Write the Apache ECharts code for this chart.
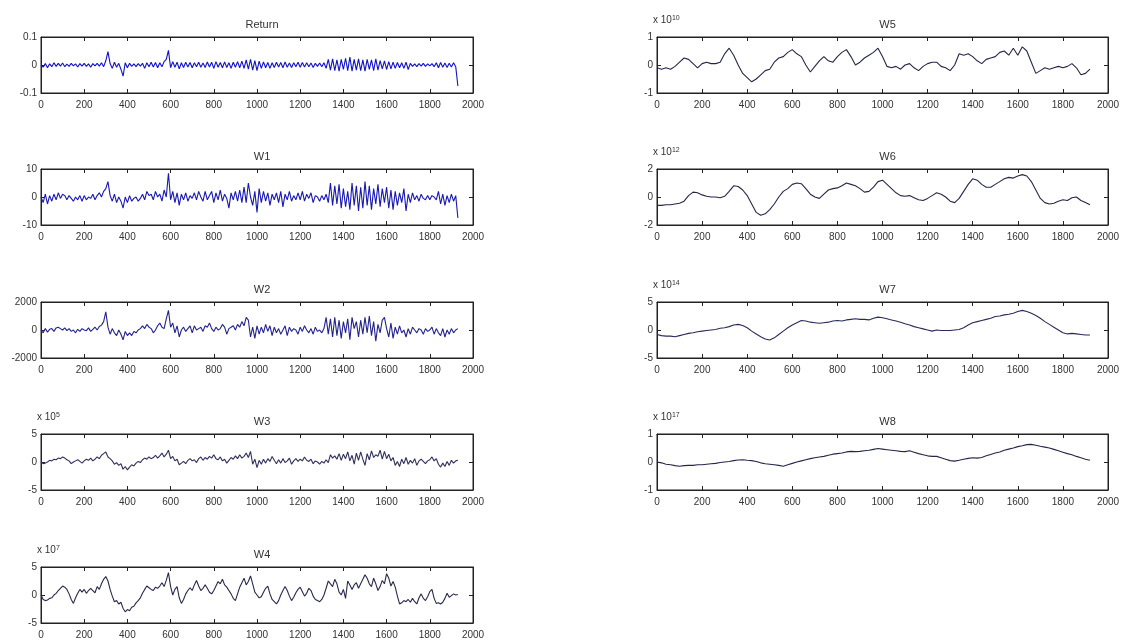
<!DOCTYPE html>
<html lang="en">
<head>
    <meta charset="UTF-8">
    <title>Wavelet decomposition</title>
    <script src="https://cdn.jsdelivr.net/npm/echarts@6/dist/echarts.min.js"></script>
    <style>
        html, body { margin: 0; padding: 0; background: #fff; }
        #render-target { width: 1135px; height: 643px; }
    </style>
</head>
<body>
    <div id="render-target"></div>
    <script>
        // sample spacing (x units) of the typed values
        const stepFine = 10
        const stepCoarse = 20

        const returnVals = [
            0, -0.008, 0.005, -0.01, 0.004, -0.006, 0.008, -0.005, 0.006, -0.004, 0.007, -0.006, 0.003, -0.005, 0.006, -0.003, 0.004, -0.007, 0.005, -0.004, 0.006, -0.005, 0.004, -0.008, 0.005, -0.003, 0.006, -0.004, 0.008, -0.006,
            0.015, 0.048, 0.005, -0.012, 0.01, -0.008, 0.006, -0.015, -0.04, 0.008, -0.01, 0.006, -0.005, 0.004, -0.006, 0.005, -0.004, 0.006, -0.012, 0.008, -0.006, 0.01, -0.007, 0.009, -0.01, 0.008, -0.006, 0.012, 0.02, 0.052,
            -0.01, 0.012, -0.008, 0.01, -0.014, 0.008, -0.009, 0.01, -0.007, 0.009, -0.01, 0.008, -0.006, 0.01, -0.008, 0.007, -0.009, 0.011, -0.007, 0.01, -0.012, 0.012, -0.008, 0.009, -0.01, 0.011, -0.009, 0.008, -0.012, 0.01,
            -0.008, 0.012, -0.01, 0.014, -0.012, 0.018, -0.015, 0.02, -0.018, 0.016, -0.02, 0.014, -0.012, 0.011, -0.01, 0.009, -0.012, 0.008, -0.009, 0.01, -0.007, 0.009, -0.01, 0.011, -0.008, 0.007, -0.009, 0.008, -0.006, 0.01,
            -0.008, 0.009, -0.007, 0.008, -0.006, 0.007, -0.009, 0.006, -0.005, 0.007, -0.006, 0.008, -0.012, 0.02, -0.018, 0.022, -0.02, 0.018, -0.022, 0.02, -0.016, 0.024, -0.02, 0.028, -0.022, 0.02, -0.018, 0.022, -0.02, 0.018,
            -0.022, 0.02, -0.016, 0.018, -0.02, 0.022, -0.018, 0.016, -0.014, 0.015, -0.016, 0.012, -0.014, 0.01, -0.012, 0.009, -0.01, 0.008, -0.012, 0.01, -0.016, 0.006, -0.005, 0.004, -0.006, 0.005, -0.004, 0.006, -0.005, 0.004,
            -0.003, 0.005, -0.006, 0.008, -0.01, 0.009, -0.008, 0.007, -0.009, 0.006, -0.007, 0.008, -0.006, -0.075
        ]
        const w1Vals = [
            0, -2, 1, -2.5, 0.5, -1.5, 1, -1, 1.5, -0.5, 1, 0.5, -1, 0.5, -0.5, -1.5, 0, -1, 0.5, -1.5, 0.5, -1, 0, -0.5, 1, -1, 0.5, 1.5, 0, 2,
            3, 5.5, 0.5, -1.5, 1, -2, 0, -1.5, -4, 0, -2, 0.5, -1.5, -0.5, 0, -1.5, -0.5, 1, -1, 2, 0.5, 1, -1, 2, 0, 1, -1.5, 2.5, 0, 8.5,
            -1, 2, -2, 1.5, -3, 1, -1, 1.5, -1.5, 0.5, -0.5, 1.5, -1, 2, 0, -1.5, 2, -1, 0.5, 2, -2, 1.5, -1, 2.5, -1.5, 1, -0.5, -4, 1.5, -1,
            2, -1.5, 2.5, -2, 3.5, -2, 5, 0, -3, 2, -5.5, 3, -2, 2, -1.5, 1.5, -3, 1, -1, 1.5, -2, 2, -3.5, 1, -1, 2, -1.5, 0.5, -1, 1.5,
            -1, 2, -1.5, 1, -0.5, 1.5, -2, 0.5, 0, -1.5, 0.5, -1, 1, -2, 5, -3, 4, -2.5, 4.5, -4, 3, -3.5, 2, -4.5, 5, -3, 4, -5, 3.5, -4,
            5.5, -3, 4, -4.5, 3, -2.5, 4.5, -3.5, 3, -2, 3.5, -4, 2.5, -4.5, 2, -3, 1.5, -2, 3, -5, 1, -2, 1.5, -1, 0.5, -1.5, 1, -0.5, -1, 0.5,
            -1, 0.5, 0, -1, 2, -2.5, 1, -3, 0.5, -2, 1, -1.5, 0.5, -7.5
        ]
        const w2Vals = [
            0, -200, 100, -150, 50, 100, -100, 150, 200, 100, 0, 150, -50, 100, -100, 0, -200, 50, -100, 100, 0, -50, 150, -100, 50, 200, 0, 250, 350, 600,
            1300, 200, -300, 100, -200, -400, 0, -300, -700, -100, -400, -200, -400, -100, -200, 0, 100, 300, 100, 400, 200, 100, -200, 0, 300, 500, 200, 100, 800, 1400,
            200, 500, -200, 300, -500, 0, 200, -100, 100, 300, -200, 300, 0, 100, 200, -100, 300, 200, 500, 100, -100, 200, 0, 100, 400, 200, -300, 100, 200, 300,
            0, 400, 200, 600, 300, 900, 700, -500, 200, -600, 300, -300, 200, -200, 400, -100, 300, -400, 200, -200, 100, -300, 0, 300, -400, 200, -100, 100, 0, -300,
            200, -100, 300, 0, -200, 100, -300, 200, -100, 0, -200, 100, 900, -300, 800, -500, 900, -400, 700, -600, 600, -200, 800, -700, 900, 100, 600, -500, 700, -300,
            900, -200, 1000, -400, 600, -800, 400, -200, 700, 900, 100, -500, 500, -600, 200, -300, 300, -200, 0, -500, 100, -300, 200, 0, -200, 100, 0, -300, 100, -100,
            0, 200, -300, 100, -200, -400, 100, -500, 0, -300, 100, -200, 0, 100
        ]
        // in units of 1e5
        const w3Vals = [
            0, -0.3, -0.2, 0, 0.3, 0.2, 0.5, 0.4, 0.7, 0.6, 0.9, 0.7, 0.4, 0.2, -0.3, 0, 0.2, 0.4, 0.1, -0.2, 0.2, 0.5, 0.3, 0.7, 0.2, 0.5, 0.9, 0.6, 1.2, 1.5,
            1.8, 0.9, 0.6, 0.2, -0.4, -0.1, -0.6, -0.3, -1.3, -0.8, -1.4, -0.9, -0.5, -0.7, -0.2, 0.1, -0.1, 0.4, 0.7, 0.5, 0.9, 0.6, 0.8, 1.2, 0.7, 1.1, 1.6, 0.9, 1.4, 2.1,
            0.6, 1.0, 0.2, 0.5, -0.5, -0.2, 0.1, -0.3, 0.3, 0.6, 0.2, 0.4, -0.1, 0.6, 0.9, 0.3, 0.8, 0.5, 1.0, 0.7, 1.3, 0.6, 0.4, 0.9, 0.2, 0.5, -0.2, 0.3, 0.8, 0.5,
            1.1, 0.6, 1.3, 0.7, 1.0, 1.6, 0.8, 1.9, -0.4, 0.5, -1.0, 0.3, -0.4, 0.5, -0.2, 0.6, 0.1, 1.0, 0.3, -0.3, 0.4, -0.2, 0.6, -0.1, 0.2, 0.7, -0.4, 0.2, 0.6, 0.1,
            0.5, 0.2, 0.9, 0.3, 0.1, 0.5, -0.3, 0.2, 0.0, -0.4, 0.1, -0.2, 0.4, -0.1, 1.3, 0.7, 1.1, 0.5, 1.5, 0.3, 1.4, 0.6, 1.8, 0.2, 1.2, -0.4, 1.6, 0.3, 1.8, 0.5,
            -0.6, 1.5, 0.4, 2.0, 0.8, 1.3, 1.0, 2.1, 0.5, 1.9, 0.6, 1.4, 0.2, 0.8, -0.6, 0.1, -0.8, 0.5, -0.3, 0.8, -0.4, 0.3, -0.2, 0.6, -0.6, 0.2, 0.5, 0.1, -0.3, 0.2,
            0.4, 0.9, 0.2, 0.6, -0.4, -0.9, -0.2, -0.8, 0.1, -0.6, 0.3, -0.2, 0.2, 0.3
        ]
        // in units of 1e7
        const w4Vals = [
            0, -0.8, -1.0, -0.9, -0.6, -0.5, 0, 0.3, 0.8, 1.2, 1.6, 1.4, 1.0, 0.2, -0.8, -1.5, -0.5, 0.3, 1.0, 0.5, 1.0, 0.3, 0.8, 1.2, 0.8, 0.4, 1.5, 1.0, 2.0, 2.8,
            3.3, 2.5, 1.0, -0.2, -1.2, -1.0, -1.6, -1.3, -2.4, -3.0, -2.6, -2.8, -2.2, -2.0, -1.4, -1.0, -0.5, 0.3, 1.0, 1.6, 1.3, 1.0, 0.8, 1.4, 1.2, 1.6, 2.2, 1.5, 2.6, 4.0,
            1.5, 0, 1.0, 1.5, -0.5, -1.5, -0.8, 0.2, 0.8, 1.3, 0.8, 1.8, 2.6, 1.6, 0.8, 1.2, 1.8, 1.2, 0.5, 0.2, 0.8, 1.6, 2.4, 2.0, 2.8, 1.8, 1.4, 0.8, 0.2, -0.6,
            -1.0, 0.2, 1.4, 2.2, 3.0, 1.8, 2.4, 3.4, 2.0, 0.5, 0, -0.5, -0.3, 0.5, 1.2, 1.6, 0.2, -0.8, -1.2, -1.6, -1.0, 0, 0.8, 1.5, 0.8, -0.2, -1.0, -0.4, 0.4, 1.0,
            1.4, 0.6, -0.2, 0.3, 1.2, 0.8, -0.2, -0.8, -1.0, -1.2, -0.8, 0, 1.2, 2.5, 2.0, 1.5, 2.8, 2.0, 0.5, 0, 1.0, -0.6, 2.5, 1.8, 1.0, 1.8, 2.2, 1.2, 2.0, 2.8,
            3.6, 3.0, 2.0, 1.5, 3.0, 2.0, 0.8, 1.5, 2.6, 2.0, 3.8, 3.0, 1.6, 2.4, 1.4, -0.2, -1.6, -1.4, -1.0, -1.2, -0.8, -1.3, -0.6, -1.2, -1.6, -0.5, 0.2, -0.6, -1.0, -0.3,
            0.6, 1.0, -0.6, -1.5, -1.4, -1.6, -1.3, -0.6, 0.3, -0.4, -0.1, 0.2, 0, 0.1
        ]
        // in units of 1e10
        const w5Vals = [
            -0.1, -0.15, -0.1, -0.15, -0.05, 0.1, 0.25, 0.2, 0.05, -0.1, 0.05, 0.1, 0.05, 0.05, 0.1, 0.4, 0.6, 0.35, 0.0, -0.3,
            -0.45, -0.6, -0.5, -0.35, -0.2, -0.15, 0.1, 0.25, 0.3, 0.45, 0.55, 0.4, 0.3, 0.0, -0.25, -0.05, 0.15, 0.3, 0.15, 0.1,
            0.3, 0.45, 0.55, 0.3, 0.0, 0.1, 0.25, 0.35, 0.45, 0.6, 0.3, -0.05, -0.1, -0.05, -0.15, 0.0, 0.05, -0.1, -0.2, -0.05,
            0.05, 0.1, 0.1, -0.05, -0.1, -0.2, 0.0, 0.4, 0.35, 0.4, 0.3, 0.15, 0.05, 0.2, 0.25, 0.3, 0.45, 0.5, 0.35, 0.6,
            0.35, 0.65, 0.5, 0.1, -0.3, -0.2, -0.1, -0.15, -0.1, -0.05, -0.1, -0.05, 0.05, -0.1, -0.35, -0.3, -0.15
        ]
        // in units of 1e12
        const w6Vals = [
            -0.6, -0.6, -0.55, -0.55, -0.5, -0.45, -0.3, 0.1, 0.35, 0.3, 0.15, 0.05, 0.0, 0.0, -0.05, 0.05, 0.4, 0.8, 0.75, 0.5,
            0.1, -0.5, -1.1, -1.3, -1.2, -0.9, -0.5, 0.0, 0.4, 0.6, 0.9, 1.0, 0.95, 0.6, 0.2, 0.0, -0.1, 0.2, 0.5, 0.6,
            0.65, 0.8, 1.0, 0.9, 0.8, 0.6, 0.35, 0.4, 0.7, 1.1, 1.2, 0.9, 0.6, 0.3, 0.1, 0.05, 0.1, -0.05, -0.2, -0.25,
            -0.1, 0.1, 0.3, 0.2, 0.0, -0.3, -0.4, -0.1, 0.4, 0.9, 1.3, 1.2, 0.9, 0.7, 0.7, 0.9, 1.1, 1.3, 1.4, 1.35,
            1.5, 1.6, 1.5, 1.1, 0.5, -0.1, -0.4, -0.5, -0.45, -0.3, -0.2, -0.25, -0.05, 0.0, -0.25, -0.4, -0.55
        ]
        // in units of 1e14
        const w7Vals = [
            -0.8, -1.0, -1.1, -1.1, -1.2, -1.0, -0.8, -0.6, -0.5, -0.3, -0.2, -0.1, 0.0, 0.1, 0.3, 0.4, 0.6, 0.9, 1.0, 0.8,
            0.4, -0.2, -0.7, -1.2, -1.6, -1.8, -1.4, -0.8, -0.2, 0.4, 0.9, 1.3, 1.7, 1.6, 1.4, 1.3, 1.2, 1.3, 1.4, 1.6,
            1.7, 1.6, 1.8, 1.9, 2.0, 1.9, 1.9, 1.8, 2.1, 2.3, 2.2, 2.0, 1.8, 1.6, 1.4, 1.1, 0.9, 0.6, 0.4, 0.2,
            0.0, -0.2, 0.0, -0.1, -0.1, -0.1, 0.0, 0.1, 0.4, 0.9, 1.3, 1.5, 1.7, 1.9, 2.1, 2.4, 2.5, 2.7, 2.8, 3.0,
            3.3, 3.5, 3.3, 3.0, 2.6, 2.1, 1.5, 1.0, 0.5, 0.0, -0.5, -0.7, -0.6, -0.7, -0.8, -0.9, -0.9
        ]
        // in units of 1e17
        const w8Vals = [
            0.0, -0.03, -0.08, -0.1, -0.13, -0.15, -0.13, -0.12, -0.12, -0.1, -0.1, -0.08, -0.06, -0.05, -0.02, 0.0, 0.02, 0.05, 0.07, 0.08,
            0.06, 0.05, 0.02, -0.03, -0.06, -0.08, -0.1, -0.12, -0.15, -0.1, -0.05, 0.0, 0.04, 0.08, 0.12, 0.15, 0.18, 0.2, 0.24, 0.28,
            0.3, 0.32, 0.36, 0.38, 0.37, 0.38, 0.4, 0.42, 0.45, 0.48, 0.46, 0.44, 0.42, 0.4, 0.38, 0.37, 0.4, 0.35, 0.3, 0.26,
            0.22, 0.2, 0.2, 0.15, 0.1, 0.05, 0.03, 0.06, 0.1, 0.13, 0.15, 0.14, 0.16, 0.22, 0.27, 0.32, 0.36, 0.42, 0.46, 0.5,
            0.55, 0.58, 0.62, 0.63, 0.6, 0.56, 0.53, 0.5, 0.45, 0.4, 0.35, 0.3, 0.26, 0.2, 0.15, 0.1, 0.06
        ]

        const titles = ["Return", "W1", "W2", "W3", "W4", "W5", "W6", "W7", "W8"]
        const exponents = [null, null, null, 5, 7, 10, 12, 14, 17]
        const yLimits = [0.1, 10, 2000, 5, 5, 1, 2, 5, 1]

        const panels = [
            { data: returnVals, step: stepFine, col: 0, row: 0, color: "#1212c8" },
            { data: w1Vals, step: stepFine, col: 0, row: 1, color: "#1818b4" },
            { data: w2Vals, step: stepFine, col: 0, row: 2, color: "#232390" },
            { data: w3Vals, step: stepFine, col: 0, row: 3, color: "#30305e" },
            { data: w4Vals, step: stepFine, col: 0, row: 4, color: "#282850" },
            { data: w5Vals, step: stepCoarse, col: 1, row: 0, color: "#262648" },
            { data: w6Vals, step: stepCoarse, col: 1, row: 1, color: "#262648" },
            { data: w7Vals, step: stepCoarse, col: 1, row: 2, color: "#2a2a5a" },
            { data: w8Vals, step: stepCoarse, col: 1, row: 3, color: "#262648" },
        ]

        const colLeft = [41, 657]
        const colWidth = [432, 451]
        const rowTop = [37, 169, 302, 434, 567]
        const boxH = 56

        const font = "Liberation Sans"
        const txt = "#333"
        const plain = v => String(v)

        const grid = [], xAxis = [], yAxis = [], series = [], title = [], graphic = []

        panels.forEach((p, i) => {
            const left = colLeft[p.col], width = colWidth[p.col], top = rowTop[p.row]
            grid.push({
                left, top, width, height: boxH,
                show: true, borderColor: "#222", borderWidth: 1, backgroundColor: "#fff"
            })
            const line = { show: true, onZero: false, lineStyle: { color: "#222", width: 1 } }
            const tick = { show: true, inside: true, length: 4, lineStyle: { color: "#222" } }
            const base = {
                gridIndex: i, type: "value", min: 0, max: 2000, interval: 200,
                axisLine: line, axisTick: tick, splitLine: { show: false },
            }
            xAxis.push({
                ...base, position: "bottom",
                axisLabel: { fontSize: 10, color: txt, fontFamily: font, margin: 7, formatter: plain }
            })
            xAxis.push({ ...base, position: "top", axisLabel: { show: false } })

            const lim = yLimits[i]
            const ybase = {
                gridIndex: i, type: "value", min: -lim, max: lim, interval: lim,
                axisLine: line, axisTick: tick, splitLine: { show: false },
            }
            yAxis.push({
                ...ybase, position: "left",
                axisLabel: { fontSize: 10, color: txt, fontFamily: font, margin: 4, formatter: plain }
            })
            yAxis.push({ ...ybase, position: "right", axisLabel: { show: false } })

            series.push({
                type: "line",
                xAxisIndex: i * 2,
                yAxisIndex: i * 2,
                data: p.data.map((v, k) => [k * p.step, v]),
                showSymbol: false,
                lineStyle: { color: p.color, width: 1.1 },
                silent: true,
            })

            title.push({
                text: titles[i],
                left: left + width / 2,
                top: top - 23,
                textAlign: "center",
                textStyle: { fontSize: 11, fontWeight: "normal", color: txt, fontFamily: font }
            })

            if (exponents[i] !== null) {
                graphic.push({
                    type: "text",
                    left: left - 4,
                    top: top - 22,
                    style: {
                        text: "x 10{e|" + exponents[i] + "}",
                        fontSize: 10, fill: txt, fontFamily: font,
                        rich: { e: { fontSize: 7, verticalAlign: "top", fill: txt, fontFamily: font } }
                    }
                })
            }
        })

        const chart = echarts.init(document.getElementById("render-target"))
        chart.setOption({
            animation: false,
            backgroundColor: "#fff",
            title, grid, xAxis, yAxis, series, graphic
        })
    </script>
</body>
</html>
